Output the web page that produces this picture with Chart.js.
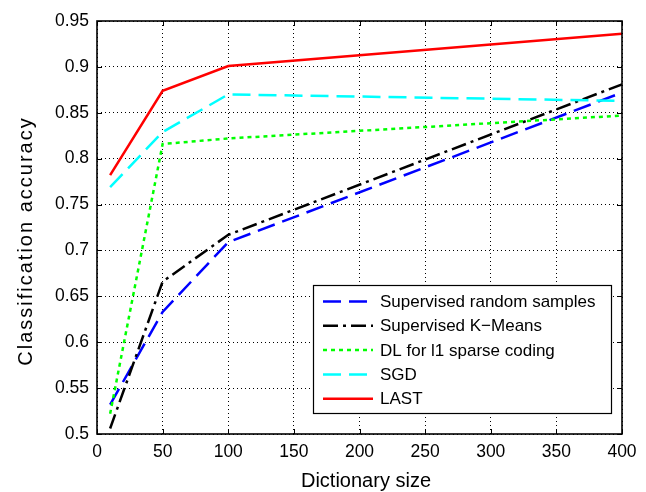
<!DOCTYPE html>
<html>
<head>
<meta charset="utf-8">
<script src="https://cdn.jsdelivr.net/npm/chart.js@4"></script>
<style>
  html, body { margin: 0; padding: 0; background: #fff; }
  canvas { display: block; }
</style>
</head>
<body>
<canvas id="myChart" width="646" height="492"></canvas>
<script>
// values
const dictSizes = [10, 50, 100, 400];
const randomSamples = [0.532, 0.633, 0.709, 0.872];
const kMeans = [0.506, 0.666, 0.717, 0.881];
const dlSparse = [0.522, 0.816, 0.822, 0.847];
const sgd = [0.769, 0.829, 0.870, 0.863];
const last = [0.782, 0.874, 0.901, 0.936];

const seriesNames = ["Supervised random samples", "Supervised K\u2212Means", "DL for l1 sparse coding", "SGD", "LAST"];
const xTicks = [0, 50, 100, 150, 200, 250, 300, 350, 400];
const yTicks = [0.5, 0.55, 0.6, 0.65, 0.7, 0.75, 0.8, 0.85, 0.9, 0.95];
const yTickLabels = ["0.5", "0.55", "0.6", "0.65", "0.7", "0.75", "0.8", "0.85", "0.9", "0.95"];
const xTitle = "Dictionary size";
const yTitle = "Classification accuracy";

const FONT = "'Liberation Sans', Arial, Helvetica, sans-serif";

function pts(ys) {
    return dictSizes.map((x, i) => ({ x: x, y: ys[i] }));
}

function line(label, ys, color, dash, order) {
    return {
        label: label,
        data: pts(ys),
        borderColor: color,
        backgroundColor: color,
        borderWidth: 2.5,
        borderDash: dash,
        pointRadius: 0,
        tension: 0,
        fill: false,
        order: order
    };
}

// box, inward ticks, titles and legend, matlab style
const matlabFrame = {
    id: 'matlabFrame',
    afterDraw(chart) {
        const ctx = chart.ctx;
        const a = chart.chartArea;
        const xs = chart.scales.x, ys = chart.scales.y;
        ctx.save();
        ctx.strokeStyle = '#000';
        ctx.lineWidth = 1;
        ctx.setLineDash([]);
        ctx.beginPath();
        xTicks.forEach(v => {
            const px = Math.round(xs.getPixelForValue(v)) + 0.5;
            ctx.moveTo(px, a.bottom); ctx.lineTo(px, a.bottom - 5);
            ctx.moveTo(px, a.top); ctx.lineTo(px, a.top + 5);
        });
        yTicks.forEach(v => {
            const py = Math.round(ys.getPixelForValue(v)) + 0.5;
            ctx.moveTo(a.left, py); ctx.lineTo(a.left + 5, py);
            ctx.moveTo(a.right, py); ctx.lineTo(a.right - 5, py);
        });
        ctx.stroke();
        ctx.lineWidth = 1.6;
        ctx.strokeRect(a.left, a.top, a.right - a.left, a.bottom - a.top);

        // legend
        const lx = 313, ly = 285, lw = 298, lh = 128;
        ctx.fillStyle = '#fff';
        ctx.fillRect(lx, ly, lw, lh);
        ctx.lineWidth = 1.2;
        ctx.strokeRect(lx + 0.5, ly + 0.5, lw, lh);
        ctx.font = '17px ' + FONT;
        ctx.textBaseline = 'middle';
        ctx.textAlign = 'left';
        chart.data.datasets.forEach((ds, i) => {
            const y = ly + 16.5 + i * 24.3;
            ctx.strokeStyle = ds.borderColor;
            ctx.lineWidth = ds.borderWidth;
            ctx.setLineDash(ds.borderDash || []);
            ctx.beginPath();
            ctx.moveTo(lx + 10, y);
            ctx.lineTo(lx + 60, y);
            ctx.stroke();
            ctx.setLineDash([]);
            ctx.fillStyle = '#000';
            ctx.fillText(ds.label, lx + 67, y + 1);
        });

        // axis titles
        ctx.fillStyle = '#000';
        ctx.font = '20px ' + FONT;
        ctx.textAlign = 'center';
        ctx.textBaseline = 'alphabetic';
        ctx.fillText(xTitle, 366, 487);
        ctx.translate(32, 241);
        ctx.rotate(-Math.PI / 2);
        if ('letterSpacing' in ctx) ctx.letterSpacing = '2px';
        ctx.fillText(yTitle, 0, 0);
        ctx.restore();
    }
};

const ctx = document.getElementById('myChart').getContext('2d');
new Chart(ctx, {
    type: 'line',
    data: {
        datasets: [
            line(seriesNames[0], randomSamples, 'rgb(0,0,255)', [18, 8], 4),
            line(seriesNames[1], kMeans, 'rgb(0,0,0)', [15, 5, 3, 5], 3),
            line(seriesNames[2], dlSparse, 'rgb(0,255,0)', [4, 4], 2),
            line(seriesNames[3], sgd, 'rgb(0,255,255)', [18, 8], 1),
            line(seriesNames[4], last, 'rgb(255,0,0)', [], 0)
        ]
    },
    options: {
        responsive: false,
        animation: false,
        layout: { padding: { left: 0, top: 21, right: 24, bottom: 0 } },
        plugins: {
            legend: { display: false },
            tooltip: { enabled: false }
        },
        scales: {
            x: {
                type: 'linear',
                min: 0,
                max: 400,
                afterBuildTicks: s => { s.ticks = xTicks.map(v => ({ value: v })); },
                afterFit: s => { s.height = 58; },
                grid: { color: '#000', lineWidth: 1, drawTicks: false },
                border: { display: false, dash: [1, 3] },
                ticks: {
                    color: '#000',
                    padding: 8,
                    maxRotation: 0,
                    font: { family: FONT, size: 17.5 }
                }
            },
            y: {
                type: 'linear',
                min: 0.5,
                max: 0.95,
                afterBuildTicks: s => { s.ticks = yTicks.map(v => ({ value: v })); },
                afterFit: s => { s.width = 97; },
                grid: { color: '#000', lineWidth: 1, drawTicks: false },
                border: { display: false, dash: [1, 3] },
                ticks: {
                    color: '#000',
                    padding: 8,
                    font: { family: FONT, size: 17.5 },
                    callback: (v, i) => yTickLabels[i]
                }
            }
        }
    },
    plugins: [matlabFrame]
});
</script>
</body>
</html>
